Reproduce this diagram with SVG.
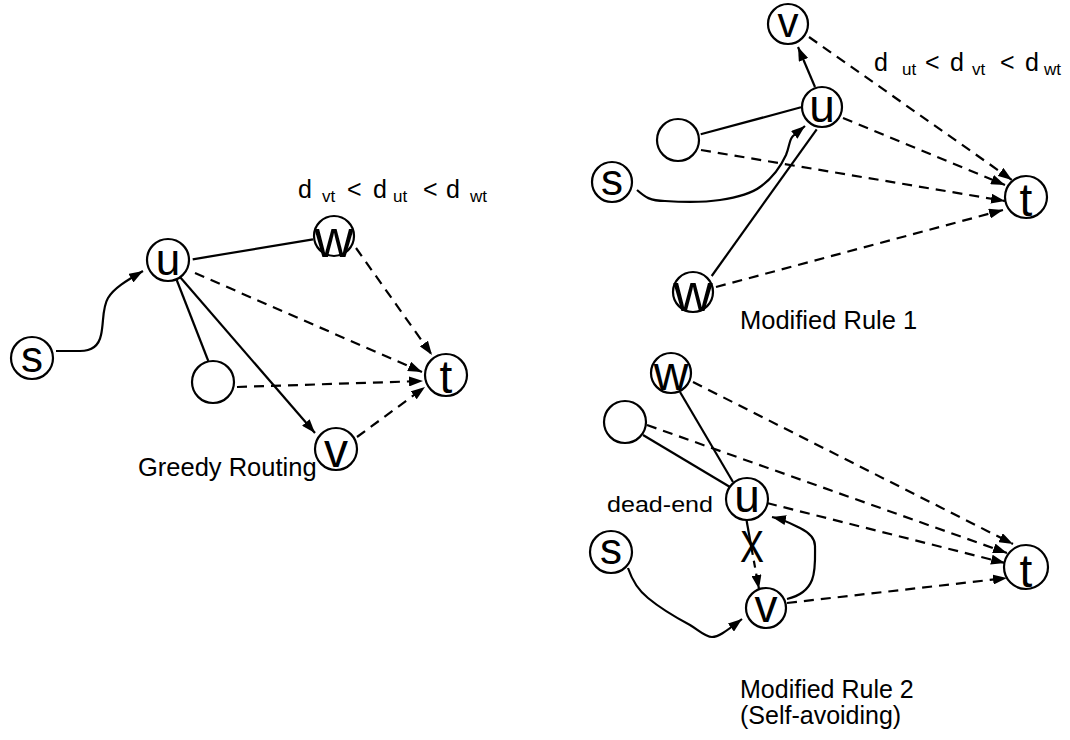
<svg xmlns="http://www.w3.org/2000/svg" width="1070" height="740" viewBox="0 0 1070 740">
<style>
.n{fill:#fff;stroke:#000;stroke-width:2.2}
.l{font-family:"Liberation Sans",Arial,Helvetica,sans-serif;fill:#000;text-anchor:middle}
.t{font-family:"Liberation Sans",Arial,Helvetica,sans-serif;fill:#000}
.c{fill:none;stroke:#000;stroke-width:2.2}
.d{stroke-dasharray:10,7}
.a{marker-end:url(#ah)}
</style>
<defs>
<marker id="ah" markerUnits="userSpaceOnUse" markerWidth="14" markerHeight="10" refX="14" refY="5" orient="auto">
<path d="M0,0 L14,5 L0,10 z" fill="#000"/>
</marker>
</defs>
<rect width="1070" height="740" fill="#fff"/>
<g id="connectors">
<!-- Greedy routing -->
<path class="c" d="M192.7,259.3 L313,239.3"/>
<path class="c" d="M176.7,280 L208.3,361"/>
<path class="c a" d="M180,277 L315,433"/>
<path class="c d a" d="M195,273 L422,372"/>
<path class="c d a" d="M356,248 L432,355"/>
<path class="c d a" d="M237,387 L423,381"/>
<path class="c d a" d="M357,437 L425,387"/>
<path class="c a" d="M56,351 L80,351 C92,351 99,345 101,335 C104,322 102,308 108,298 C114,288 126,281 143,271"/>
<!-- Modified rule 1 -->
<path class="c a" d="M815,87 L798,47"/>
<path class="c d a" d="M809,37 L1012,180"/>
<path class="c d a" d="M843,118 L1005,185"/>
<path class="c" d="M700.7,134.3 L801,107.3"/>
<path class="c d a" d="M701,150 L1005,201"/>
<path class="c" d="M711.7,276 L816.7,129.3"/>
<path class="c d a" d="M716,287 L1003,210"/>
<path class="c a" d="M637,190 C645,197 650,201 665,201 C680,202 700,203 720,200 C740,197 752,193 760,187 C770,180 780,168 786,155 C790,145 789,140 793,136 L805,126"/>
<!-- Modified rule 2 -->
<path class="c" d="M680,392 L733,482"/>
<path class="c" d="M643,435 L730,487"/>
<path class="c d a" d="M693,382 L1013,544"/>
<path class="c d a" d="M647,425 L1007,553"/>
<path class="c d a" d="M767,503 L1005,563"/>
<path class="c d a" d="M787,603 L1007,578"/>
<path class="c" d="M746.5,520 L751.5,548"/>
<path class="c a" style="stroke-dasharray:7,6" d="M751.5,548 L759,589"/>
<path class="c a" d="M787,599 C800,596 808,590 812,580 C816,570 815,555 815,546 C815,538 808,532 800,528 C792,524 785,520 772,517"/>
<path class="c a" d="M628,568 C632,580 638,590 648,598 C660,608 675,617 690,625 C700,631 705,637 712,637 C718,637 724,633 742,619"/>
</g>
<g id="g-s"><circle class="n" cx="32" cy="358" r="21"/><text class="l" x="32" y="372" font-size="44">s</text></g>
<g id="g-u"><circle class="n" cx="168" cy="260" r="21"/><text class="l" x="168" y="275" font-size="44">u</text></g>
<g id="g-w"><circle class="n" cx="334" cy="236" r="20"/><text class="l" x="334" y="257" font-size="54">w</text></g>
<g id="g-e"><circle class="n" cx="213" cy="382" r="21"/></g>
<g id="g-t"><circle class="n" cx="446" cy="375" r="21"/><text class="l" x="446" y="393" font-size="46">t</text></g>
<g id="g-v"><circle class="n" cx="336" cy="449" r="21"/><text class="l" x="336" y="467" font-size="48">v</text></g>
<g id="m1-v"><circle class="n" cx="788" cy="24" r="20"/><text class="l" x="788" y="37" font-size="42">v</text></g>
<g id="m1-u"><circle class="n" cx="822" cy="107" r="20"/><text class="l" x="822" y="122" font-size="46">u</text></g>
<g id="m1-e"><circle class="n" cx="678" cy="140" r="21"/></g>
<g id="m1-s"><circle class="n" cx="612" cy="182" r="20"/><text class="l" x="612" y="195" font-size="44">s</text></g>
<g id="m1-t"><circle class="n" cx="1026" cy="197" r="21"/><text class="l" x="1026" y="216" font-size="46">t</text></g>
<g id="m1-w"><circle class="n" cx="693" cy="292" r="20"/><text class="l" x="693" y="311" font-size="54">w</text></g>
<g id="m2-w"><circle class="n" cx="671" cy="373" r="20"/><text class="l" x="671" y="390" font-size="48">w</text></g>
<g id="m2-e"><circle class="n" cx="625" cy="422" r="21"/></g>
<g id="m2-u"><circle class="n" cx="747" cy="499" r="21"/><text class="l" x="747" y="512" font-size="46">u</text></g>
<g id="m2-s"><circle class="n" cx="611" cy="552" r="21"/><text class="l" x="611" y="564" font-size="44">s</text></g>
<g id="m2-t"><circle class="n" cx="1026" cy="567" r="22"/><text class="l" x="1026" y="587" font-size="46">t</text></g>
<g id="m2-v"><circle class="n" cx="766" cy="608" r="20"/><text class="l" x="766" y="622" font-size="46">v</text></g>
<g id="labels">
<text class="t" font-size="25"><tspan x="298" y="198">d</tspan><tspan x="322" y="202" font-size="17">vt</tspan><tspan x="347" y="198">&lt;</tspan><tspan x="373" y="198">d</tspan><tspan x="393" y="202" font-size="17">ut</tspan><tspan x="423" y="198">&lt;</tspan><tspan x="446" y="198">d</tspan><tspan x="470" y="202" font-size="17">wt</tspan></text>
<text class="t" font-size="25"><tspan x="874" y="71">d</tspan><tspan x="902" y="75" font-size="17">ut</tspan><tspan x="925" y="71">&lt;</tspan><tspan x="950" y="71">d</tspan><tspan x="972" y="75" font-size="17">vt</tspan><tspan x="1000" y="71">&lt;</tspan><tspan x="1025" y="71">d</tspan><tspan x="1044" y="75" font-size="17">wt</tspan></text>
<text class="t" x="138" y="476" font-size="25.5">Greedy Routing</text>
<text class="t" x="740" y="329" font-size="25.5">Modified Rule 1</text>
<text class="t" x="740" y="698" font-size="25">Modified Rule 2</text>
<text class="t" x="740" y="724" font-size="25">(Self-avoiding)</text>
<text class="t" x="607" y="512" font-size="22" textLength="106" lengthAdjust="spacingAndGlyphs">dead-end</text>
<text class="t" x="740" y="562" font-size="44" textLength="24" lengthAdjust="spacingAndGlyphs">X</text>
</g>
</svg>
